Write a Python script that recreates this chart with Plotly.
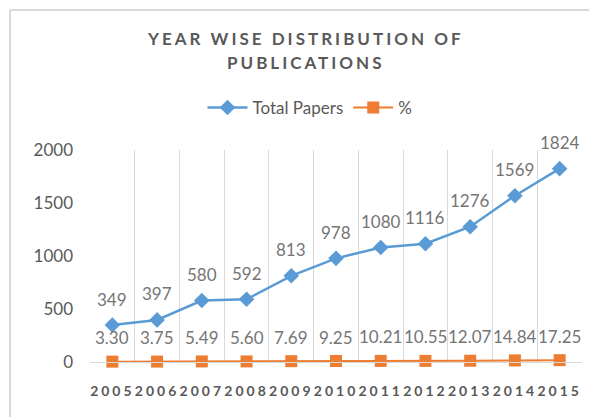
import plotly.graph_objects as go

years = ["2005", "2006", "2007", "2008", "2009", "2010", "2011", "2012", "2013", "2014", "2015"]
total_papers = [349, 397, 580, 592, 813, 978, 1080, 1116, 1276, 1569, 1824]
percent = [3.30, 3.75, 5.49, 5.60, 7.69, 9.25, 10.21, 10.55, 12.07, 14.84, 17.25]
y_ticks = [0, 500, 1000, 1500, 2000]
title_lines = ["YEAR WISE DISTRIBUTION OF", "PUBLICATIONS"]

BLUE = "#5B9BD5"
ORANGE = "#ED7D31"
GRAY = "#595959"
LABEL_GRAY = "#757575"
FONT = "Lato"

# figure is offset by the page's 8px body margin
W, H = 589, 409
L, R, T, B = 82, 15, 142, 55
PH = H - T - B
PW = W - L - R


def py(fig_y):
    return (H - B - fig_y) / PH


def px(fig_x):
    return (fig_x - L) / PW


fig = go.Figure()
fig.add_trace(go.Scatter(
    x=years, y=total_papers, name="Total Papers", mode="lines+markers",
    line=dict(color=BLUE, width=2.5),
    marker=dict(symbol="diamond", size=12, color=BLUE),
    cliponaxis=False,
))
fig.add_trace(go.Scatter(
    x=years, y=percent, name="%", mode="lines+markers",
    line=dict(color=ORANGE, width=2),
    marker=dict(symbol="square", size=12, color=ORANGE),
    cliponaxis=False,
))

annotations = []
for i, v in enumerate(total_papers):
    annotations.append(dict(x=i, y=v, xref="x", yref="y", text=str(v),
                            showarrow=False, yshift=26,
                            font=dict(family=FONT, size=17, color=LABEL_GRAY)))
for i, v in enumerate(percent):
    annotations.append(dict(x=i, y=v, xref="x", yref="y", text=f"{v:.2f}",
                            showarrow=False, yshift=24,
                            font=dict(family=FONT, size=17, color=LABEL_GRAY)))
for line, fy in zip(title_lines, [31, 55]):
    annotations.append(dict(
        x=px(297), y=py(fy), xref="paper", yref="paper",
        xanchor="center", yanchor="middle", showarrow=False,
        text=f'<span style="letter-spacing:3px">{line}</span>',
        font=dict(family=FONT, size=17, color=GRAY, weight="bold")))

fig.update_layout(
    width=W, height=H,
    margin=dict(l=L, r=R, t=T, b=B, autoexpand=False),
    paper_bgcolor="white", plot_bgcolor="white",
    font=dict(family=FONT, color=GRAY),
    legend=dict(orientation="h", x=px(302), xanchor="center", y=py(100),
                yanchor="middle", font=dict(family=FONT, size=17, color=GRAY),
                itemwidth=40, tracegroupgap=10),
    xaxis=dict(
        type="category", tickson="boundaries",
        tickmode="array", tickvals=years,
        ticktext=[f'<span style="letter-spacing:3px">{y}</span>' for y in years],
        tickfont=dict(family=FONT, size=14, color=GRAY, weight="bold"),
        tickangle=0, automargin=False,
        showgrid=True, gridcolor="#D9D9D9", gridwidth=1,
        showline=True, linecolor="#D9D9D9", linewidth=1,
        ticks="", ticklabelstandoff=16,
        range=[-0.5, 10.5],
    ),
    yaxis=dict(
        range=[0, 2000], tickmode="array", tickvals=y_ticks,
        tickfont=dict(family=FONT, size=17, color=GRAY),
        showgrid=False, zeroline=False, showline=False, automargin=False,
        ticks="", ticklabelstandoff=16,
    ),
    annotations=annotations,
    shapes=[
        dict(type="line", xref="paper", yref="paper",
             x0=px(2), x1=1.2, y0=py(2), y1=py(2),
             line=dict(color="#D9D9D9", width=2)),
        dict(type="line", xref="paper", yref="paper",
             x0=px(2), x1=px(2), y0=py(2), y1=-0.5,
             line=dict(color="#D9D9D9", width=2)),
    ],
    showlegend=True,
)

fig.write_html("out.html")
